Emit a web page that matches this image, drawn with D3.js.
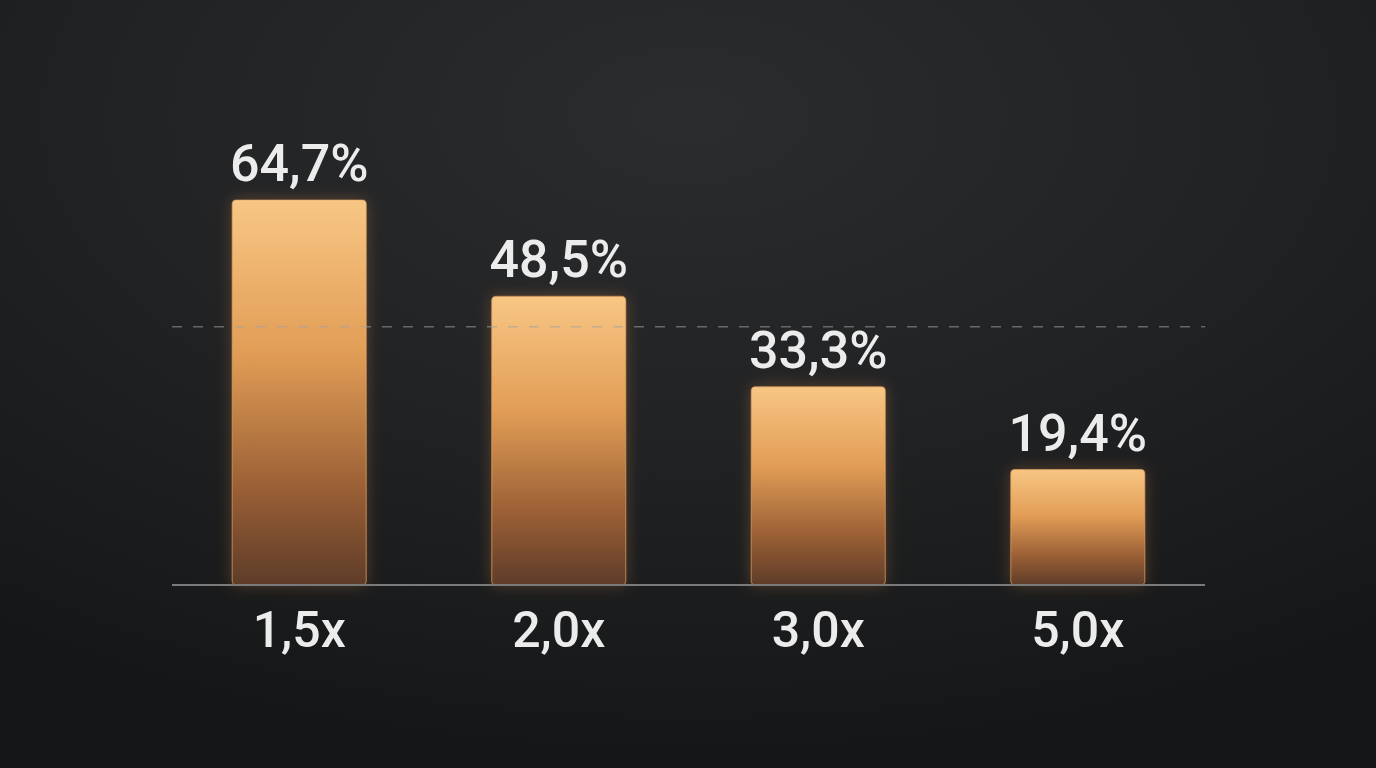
<!DOCTYPE html>
<html>
<head>
<meta charset="utf-8">
<script src="https://cdn.jsdelivr.net/npm/d3@7"></script>
<style>
  html, body { margin: 0; padding: 0; background: #1b1c1e; }
  svg { display: block; }
</style>
</head>
<body>
<div id="chart"></div>
<script>
// data
const categories = ["1,5x", "2,0x", "3,0x", "5,0x"];
const values = [64.7, 48.5, 33.3, 19.4];
const referenceValue = 43.4;

const width = 1376;
const height = 768;
const baseY = 585;

const svg = d3.select("#chart")
    .append("svg")
    .attr("width", width)
    .attr("height", height);

const defs = svg.append("defs");

// background: soft lighter area at top, darker towards bottom
const bg = defs.append("radialGradient")
    .attr("id", "bg")
    .attr("cx", "50%").attr("cy", "15%").attr("r", "85%");
bg.append("stop").attr("offset", "0%").attr("stop-color", "#2b2c2e");
bg.append("stop").attr("offset", "55%").attr("stop-color", "#202123");
bg.append("stop").attr("offset", "100%").attr("stop-color", "#151617");

const barGrad = defs.append("linearGradient")
    .attr("id", "barGrad")
    .attr("x1", 0).attr("y1", 0).attr("x2", 0).attr("y2", 1);
barGrad.append("stop").attr("offset", "0%").attr("stop-color", "#f8c684");
barGrad.append("stop").attr("offset", "40%").attr("stop-color", "#e19d56");
barGrad.append("stop").attr("offset", "75%").attr("stop-color", "#9a5f35");
barGrad.append("stop").attr("offset", "100%").attr("stop-color", "#5e3c29");

const glow = defs.append("filter")
    .attr("id", "glow")
    .attr("x", "-30%").attr("y", "-30%").attr("width", "160%").attr("height", "160%");
glow.append("feGaussianBlur").attr("stdDeviation", 8);

svg.append("rect")
    .attr("width", width)
    .attr("height", height)
    .attr("fill", "url(#bg)");

const x = d3.scaleBand()
    .domain(categories)
    .range([172, 1205])
    .paddingInner(0.4836)
    .paddingOuter(0.232);

const y = d3.scaleLinear()
    .domain([0, 64.7])
    .range([baseY, 200]);

const bars = svg.append("g");

// glow behind the bars
bars.selectAll("rect.glow")
    .data(values)
    .enter().append("rect")
    .attr("class", "glow")
    .attr("x", (d, i) => x(categories[i]))
    .attr("y", d => y(d))
    .attr("width", x.bandwidth())
    .attr("height", d => baseY - y(d))
    .attr("fill", "#e0944a")
    .attr("opacity", 0.3)
    .attr("filter", "url(#glow)");

bars.selectAll("rect.bar")
    .data(values)
    .enter().append("rect")
    .attr("class", "bar")
    .attr("x", (d, i) => x(categories[i]))
    .attr("y", d => y(d))
    .attr("width", x.bandwidth())
    .attr("height", d => baseY - y(d))
    .attr("rx", 4)
    .attr("fill", "url(#barGrad)")
    .attr("stroke", "#e6a364")
    .attr("stroke-opacity", 0.6)
    .attr("stroke-width", 1.2);

// dashed reference line, drawn over the bars
svg.append("line")
    .attr("x1", 172).attr("x2", 1205)
    .attr("y1", y(referenceValue)).attr("y2", y(referenceValue))
    .attr("stroke", "#a0a0a0")
    .attr("stroke-opacity", 0.55)
    .attr("stroke-width", 1.5)
    .attr("stroke-dasharray", "10 11");

// baseline
svg.append("line")
    .attr("x1", 172).attr("x2", 1205)
    .attr("y1", baseY).attr("y2", baseY)
    .attr("stroke", "#7a7a7a")
    .attr("stroke-width", 2);

// value labels
svg.selectAll("text.value")
    .data(values)
    .enter().append("text")
    .attr("class", "value")
    .attr("x", (d, i) => x(categories[i]) + x.bandwidth() / 2)
    .attr("y", d => y(d) - 19)
    .attr("text-anchor", "middle")
    .style("font-family", "Roboto, 'Noto Sans', sans-serif")
    .style("font-weight", 500)
    .style("font-size", "52px")
    .attr("fill", "#ececec")
    .text(d => d.toFixed(1).replace(".", ",") + "%");

// category labels
svg.selectAll("text.cat")
    .data(categories)
    .enter().append("text")
    .attr("class", "cat")
    .attr("x", d => x(d) + x.bandwidth() / 2)
    .attr("y", 647)
    .attr("text-anchor", "middle")
    .style("font-family", "Roboto, 'Noto Sans', sans-serif")
    .style("font-weight", 500)
    .style("font-size", "50px")
    .attr("fill", "#ececec")
    .text(d => d);
</script>
</body>
</html>
